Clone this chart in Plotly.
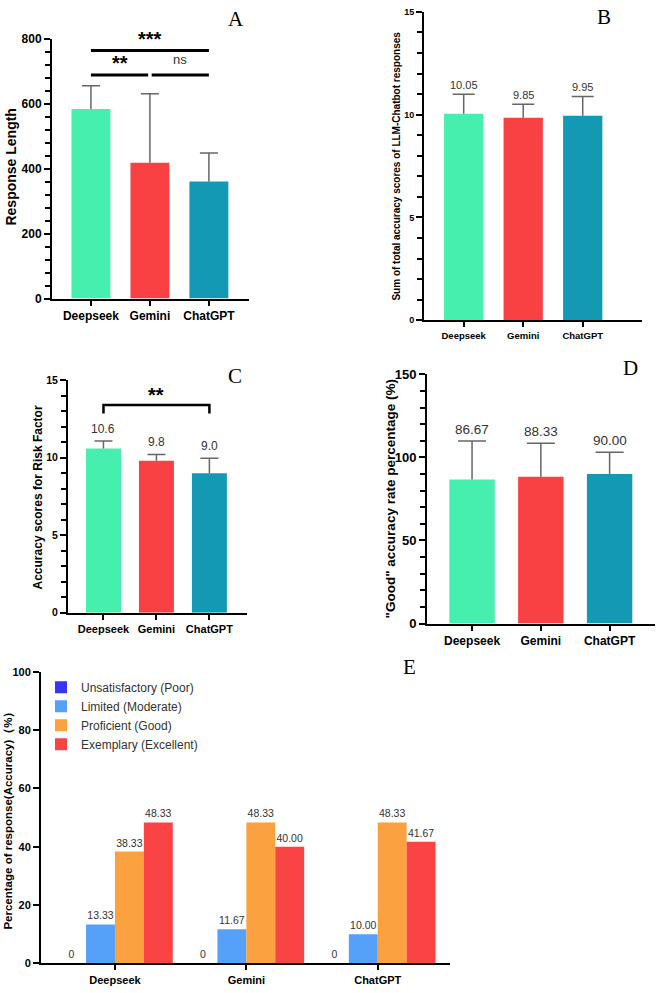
import plotly.graph_objects as go

W, H = 658, 993

# ---------------- data ----------------
models = ["Deepseek", "Gemini", "ChatGPT"]
model_colors = ["#46EFAE", "#F94144", "#1399B3"]

# A: response length (mean, SD)
resp_len_mean = [583, 418, 360]
resp_len_sd = [72, 212, 88]
# B: sum of total accuracy scores
total_acc_mean = [10.05, 9.85, 9.95]
total_acc_sd = [0.94, 0.66, 0.94]
# C: accuracy scores for risk factor
risk_mean = [10.6, 9.8, 9.0]
risk_sd = [0.48, 0.41, 0.96]
# D: "Good" accuracy rate percentage
good_mean = [86.67, 88.33, 90.00]
good_sd = [23.2, 20.2, 13.1]
# E: percentage of responses by accuracy level
levels = ["Unsatisfactory (Poor)", "Limited (Moderate)", "Proficient (Good)", "Exemplary (Excellent)"]
level_colors = ["#3535F2", "#55A1FA", "#FCA140", "#F94344"]
pct_poor = [0, 0, 0]
pct_limited = [13.33, 11.67, 10.00]
pct_good = [38.33, 48.33, 48.33]
pct_excellent = [48.33, 40.00, 41.67]

# significance brackets: (label, x_from, x_to, height)
sig_A = [("***", 0, 2, 763), ("**", 0, 0.97, 688), ("ns", 1.03, 2, 688)]
sig_C = [("**", 0, 2, 13.4)]

FONT = "Liberation Sans, Arial, sans-serif"
SERIF = "Liberation Serif, Times New Roman, serif"
xs = list(range(len(models)))


def dom_x(a, b):
    return [a / W, b / W]


def dom_y(top, bottom):
    return [1 - bottom / H, 1 - top / H]


fig = go.Figure()


def axis_common(size):
    return dict(showline=True, linecolor="black", linewidth=2, ticks="outside",
                tickcolor="black", tickwidth=2, showgrid=False, zeroline=False,
                tickfont=dict(family=FONT, size=size, color="black", weight="bold"))


panels = [
    # name, mean, sd, fmt, xdom, ydom, xrange, yrange, dtick, minor, tickfs, xtickfs, capw, labfs, labshift
    ("1", resp_len_mean, resp_len_sd, None, (52, 249), (32, 296), [-0.66, 2.68], [0, 800], 200, 40, 12, 12, 9, 0, 0),
    ("2", total_acc_mean, total_acc_sd, "{:.2f}", (424, 642), (5, 318), [-0.667, 2.996], [0, 15], 5, 1, 9, 9.5, 11, 11, 1),
    ("3", risk_mean, risk_sd, "{:.1f}", (68, 247), (379, 615), [-0.67, 2.71], [0, 15], 5, 1, 10.5, 11, 9, 12, 3),
    ("4", good_mean, good_sd, "{:.2f}", (427, 655), (373, 626), [-0.655, 2.66], [0, 150], 50, 10, 13, 12, 14, 13.5, 2),
]

annotations = []
layout_axes = {}
for name, mean, sd, fmt, xd, yd, xr, yr, dt, mn, tfs, xtfs, capw, labfs, labshift in panels:
    sfx = "" if name == "1" else name
    xa, ya = "x" + sfx, "y" + sfx
    fig.add_trace(go.Bar(
        x=xs, y=mean, width=0.66, marker=dict(color=model_colors, line=dict(width=0)),
        xaxis=xa, yaxis=ya, showlegend=False, hoverinfo="skip"))
    # error bars (upper only) drawn as lines from the mean to mean + SD, with a cap
    ppu = (xd[1] - xd[0]) / (xr[1] - xr[0])
    cw = capw / ppu
    ex, ey = [], []
    for xi, m, s in zip(xs, mean, sd):
        ex += [xi, xi, None, xi - cw, xi + cw, None]
        ey += [m, m + s, None, m + s, m + s, None]
    fig.add_trace(go.Scatter(x=ex, y=ey, mode="lines", line=dict(color="#666666", width=1.5),
                             xaxis=xa, yaxis=ya, showlegend=False, hoverinfo="skip", cliponaxis=False))
    if fmt:
        for xi, m, s in zip(xs, mean, sd):
            annotations.append(dict(x=xi, y=m + s, xref=xa, yref=ya, text=fmt.format(m),
                                    showarrow=False, xanchor="center", yanchor="bottom", yshift=labshift,
                                    font=dict(family=FONT, size=labfs, color="#333333")))
    # minor ticks on the y axis, drawn as short horizontal line markers outside the axis
    minor_vals = [v * mn for v in range(int(round(yr[1] / mn)) + 1) if (v * mn) % dt != 0]
    fig.add_trace(go.Scatter(
        x=[xr[0] - 3.5 / ppu] * len(minor_vals), y=minor_vals, mode="markers",
        marker=dict(symbol="line-ew", size=5, color="black", line=dict(width=2, color="black")),
        xaxis=xa, yaxis=ya, showlegend=False, hoverinfo="skip", cliponaxis=False))
    layout_axes["xaxis" + sfx] = dict(axis_common(xtfs), domain=dom_x(*xd), range=xr, anchor=ya,
                                      tickvals=xs, ticktext=models, ticklen=5)
    layout_axes["yaxis" + sfx] = dict(axis_common(tfs), domain=dom_y(*yd), range=yr, anchor=xa,
                                      tickmode="linear", dtick=dt, tick0=0, ticklen=6,
                                      minor=dict(dtick=mn, tick0=0, ticks="outside", ticklen=5,
                                                 tickwidth=2, tickcolor="black"))

# significance brackets
for lab, x0, x1, h in sig_A:
    fig.add_trace(go.Scatter(x=[x0, x1], y=[h, h], mode="lines", line=dict(color="black", width=3),
                             xaxis="x", yaxis="y", showlegend=False, hoverinfo="skip", cliponaxis=False))
for lab, x0, x1, h in sig_C:
    fig.add_trace(go.Scatter(x=[x0, x0, x1, x1], y=[h - 0.55, h, h, h - 0.55], mode="lines",
                             line=dict(color="black", width=2.5),
                             xaxis="x3", yaxis="y3", showlegend=False, hoverinfo="skip", cliponaxis=False))

for lab, x0, x1, h in sig_A:
    star = "*" in lab
    annotations.append(dict(
        x=(x0 + x1) / 2, y=h, xref="x", yref="y", text=lab, showarrow=False,
        yanchor="bottom", yshift=(-1 if star else 6),
        font=dict(family=FONT, size=(20 if star else 13), color=("black" if star else "#333333"),
                  weight=("bold" if star else "normal"))))
for lab, x0, x1, h in sig_C:
    annotations.append(dict(
        x=(x0 + x1) / 2, y=h, xref="x3", yref="y3", text=lab, showarrow=False,
        yanchor="bottom", yshift=-3,
        font=dict(family=FONT, size=20, color="black", weight="bold")))

# E panel
e_series = [pct_poor, pct_limited, pct_good, pct_excellent]
for lvl, col, vals in zip(levels, level_colors, e_series):
    fig.add_trace(go.Bar(
        x=xs, y=vals, name=lvl, xaxis="x5", yaxis="y5",
        marker=dict(color=col, line=dict(width=0)),
        text=[("0" if v == 0 else f"{v:.2f}") for v in vals], textposition="outside",
        textfont=dict(family=FONT, size=10.5, color="#333333"), constraintext="none",
        cliponaxis=False, hoverinfo="skip"))

layout_axes["xaxis5"] = dict(axis_common(11), domain=dom_x(41, 450), range=[-0.563, 2.55], anchor="y5",
                             tickvals=xs, ticktext=models, ticklen=5)
layout_axes["yaxis5"] = dict(axis_common(11), domain=dom_y(675, 971), range=[0, 100], anchor="x5",
                             tickmode="linear", dtick=20, tick0=0, ticklen=6)

# y-axis titles
ytitles = [
    ("Response Length", 11, 163, 14),
    ("Sum of total accuracy scores of LLM-Chatbot responses", 397, 162, 10),
    ("Accuracy scores for Risk Factor", 38, 498, 12),
    ("\"Good\" accuracy rate percentage (%)", 390, 500, 13.5),
    ("Percentage of response(Accuracy)（%）", 9, 823, 11.5),
]
for t, px, py, fs in ytitles:
    annotations.append(dict(x=px / W, y=1 - py / H, xref="paper", yref="paper", text=t,
                            textangle=-90, showarrow=False, xanchor="center", yanchor="middle",
                            font=dict(family=FONT, size=fs, color="black", weight="bold")))

# panel letters
for t, px, py in [("A", 236, 12), ("B", 604, 10), ("C", 235, 375), ("D", 630, 367), ("E", 409, 670)]:
    annotations.append(dict(x=px / W, y=1 - py / H, xref="paper", yref="paper", text=t,
                            showarrow=False, xanchor="center", yanchor="middle",
                            font=dict(family=SERIF, size=21, color="black")))

fig.update_layout(
    width=W, height=H, margin=dict(l=0, r=0, t=0, b=0),
    paper_bgcolor="white", plot_bgcolor="white",
    barmode="group", bargap=0.12, bargroupgap=0,
    showlegend=True,
    legend=dict(x=41 / W, y=1 - 676 / H, xanchor="left", yanchor="top",
                font=dict(family=FONT, size=12, color="#333333"), bgcolor="rgba(0,0,0,0)",
                tracegroupgap=0),
    annotations=annotations,
    **layout_axes,
)

fig.write_html("out.html")
